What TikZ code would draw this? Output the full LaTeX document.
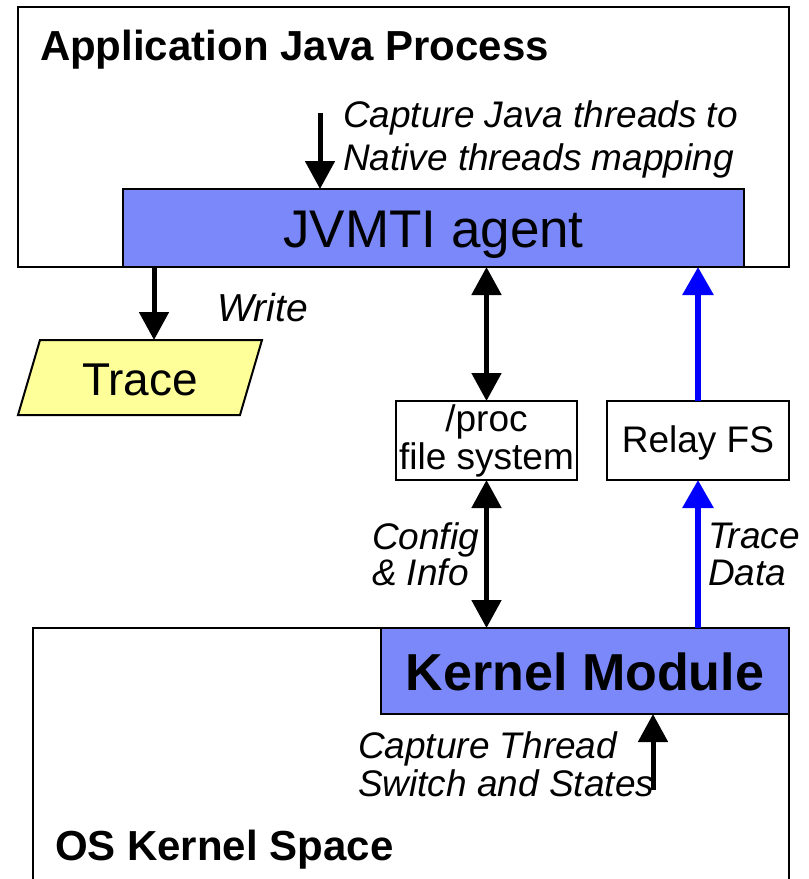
\documentclass[tikz,border=0pt]{standalone}
\usepackage{fontspec}
\setmainfont{Liberation Sans}
\usetikzlibrary{arrows.meta,backgrounds}
\definecolor{agentblue}{RGB}{122,136,250}
\definecolor{traceyellow}{RGB}{255,255,153}
\definecolor{datablue}{RGB}{0,0,255}
\newcommand{\pxfont}[2]{\fontsize{#1}{#2}\selectfont}
\begin{document}
\begin{tikzpicture}[x=1pt,y=-1pt,
  box/.style={draw, line width=2pt, inner sep=0pt, outer sep=0pt},
  label/.style={inner sep=0pt, outer sep=0pt},
  arr/.style={line width=5pt, -{Triangle[width=29pt,length=28pt]}},
  darr/.style={line width=5pt, {Triangle[width=29pt,length=28pt]}-{Triangle[width=29pt,length=28pt]}},
  barr/.style={draw=datablue, line width=6pt, -{Triangle[width=30pt,length=28pt]}, datablue}
]
\useasboundingbox (0,0) rectangle (809,879);
\clip (0,0) rectangle (809,879);

% user-space process with the agent
\node[box, fill=white, minimum width=771pt, minimum height=260pt, anchor=north west] (app) at (18,7) {};
\node[label, font=\bfseries\pxfont{42}{42}, anchor=base west] (apptitle) at (40,60) {Application Java Process};
\node[box, fill=agentblue, minimum width=621pt, minimum height=78pt, anchor=north west,
      font=\pxfont{53}{53}, text height=38pt, text depth=0pt] (jvmti) at (123,189) {JVMTI agent};
\node[label, font=\itshape\pxfont{37}{43}, align=left, anchor=north west] (mapnote) at (343,101) {Capture Java threads to\\Native threads mapping};

% trace output
\node[label, minimum width=222pt, minimum height=75pt, font=\pxfont{46}{46},
      text height=35pt, text depth=0pt] (trace) at (140,377.5) {Trace};
\begin{scope}[on background layer]
  \draw[line width=2pt, fill=traceyellow]
    ([xshift=11pt]trace.north west) -- ([xshift=11pt]trace.north east)
    -- ([xshift=-11pt]trace.south east) -- ([xshift=-11pt]trace.south west) -- cycle;
\end{scope}
\node[label, font=\itshape\pxfont{39}{39}, anchor=base west] (writelbl) at (217,321) {Write};

% file systems
\node[box, fill=white, minimum width=181pt, minimum height=79pt, font=\pxfont{37}{38}, align=center] (proc) at (486.5,440.5) {/proc\\file system};
\node[box, fill=white, minimum width=182pt, minimum height=79pt, font=\pxfont{37}{37},
      text height=23pt, text depth=0pt] (relay) at (698,440.5) {Relay FS};
\node[label, font=\itshape\pxfont{37}{36}, align=left, anchor=north west] (cfglbl) at (372,523) {Config\\\& Info};
\node[label, font=\itshape\pxfont{37}{37}, align=left, anchor=north west] (datalbl) at (708,523) {Trace\\Data};

% kernel space
\node[box, fill=white, minimum width=756pt, minimum height=300pt, anchor=north west] (os) at (33,628) {};
\node[box, fill=agentblue, minimum width=408pt, minimum height=86pt, anchor=north west,
      font=\bfseries\pxfont{52}{52}, text height=38pt, text depth=0pt] (kernel) at (381,628) {Kernel Module};
\node[label, font=\itshape\pxfont{37}{38}, align=left, anchor=north west] (switchlbl) at (358,732) {Capture Thread\\Switch and States};
\node[label, font=\bfseries\pxfont{42}{42}, anchor=base west] (ostitle) at (55,860) {OS Kernel Space};

% connectors
\coordinate (mapfrom) at (320,113);
\draw[arr] (mapfrom) -- (mapfrom |- jvmti.north);
\coordinate (writex) at (154,0);
\draw[arr] (writex |- jvmti.south) -- (writex |- trace.north);
\draw[darr] (proc.north |- jvmti.south) -- (proc.north);
\draw[darr] (proc.south) -- (proc.south |- kernel.north);
\draw[barr] (relay.north) -- (relay.north |- jvmti.south);
\draw[barr] (relay.south |- kernel.north) -- (relay.south);
\coordinate (switchfrom) at (653,790);
\draw[arr] (switchfrom) -- (switchfrom |- kernel.south);
\end{tikzpicture}
\end{document}
